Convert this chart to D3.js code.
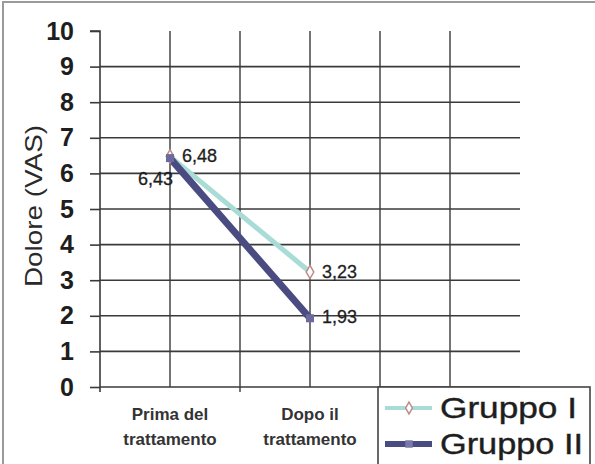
<!DOCTYPE html>
<html><head><meta charset="utf-8">
<script src="https://cdn.jsdelivr.net/npm/d3@7"></script>
<style>body{margin:0;background:#fff}svg{display:block}text{font-family:"Liberation Sans",Arial,sans-serif}</style>
</head><body><div id="chart"></div>
<script>
const categories = ["Prima del\ntrattamento", "Dopo il\ntrattamento", ""];
const seriesNames = ["Gruppo I", "Gruppo II"];
const gruppo1 = [6.48, 3.23];
const gruppo2 = [6.43, 1.93];
const labels1 = ["6,48", "3,23"];
const labels2 = ["6,43", "1,93"];
const yTicks = [0,1,2,3,4,5,6,7,8,9,10];

const W = 595, H = 464;
const svg = d3.select("#chart").append("svg").attr("width", W).attr("height", H);
svg.append("rect").attr("width", W).attr("height", H).attr("fill", "#fff");
// outer frame
svg.append("rect").attr("x", 3).attr("y", 2).attr("width", 640).attr("height", 520)
  .attr("fill", "none").attr("stroke", "#9a9a9a").attr("stroke-width", 2);

const x = d3.scaleBand().domain(categories).range([100, 520]).padding(0);
const y = d3.scaleLinear().domain([0, 10]).range([387, 31]);
const gridC = "#3a3a3a";

// horizontal gridlines
svg.append("g").selectAll("line").data(yTicks.filter(d => d > 0 && d < 10)).join("line")
  .attr("x1", 100).attr("x2", 520).attr("y1", d => y(d)).attr("y2", d => y(d))
  .attr("stroke", gridC).attr("stroke-width", 1.6);
// vertical gridlines (band centers and inner boundaries)
const vPos = [];
categories.forEach((c, i) => { vPos.push(x(c) + x.bandwidth() / 2); if (i > 0) vPos.push(x(c)); });
svg.append("g").selectAll("line").data(vPos).join("line")
  .attr("x1", d => d).attr("x2", d => d).attr("y1", y(10)).attr("y2", y(0))
  .attr("stroke", gridC).attr("stroke-width", 1.4);

// y axis
const yAxis = svg.append("g").attr("transform", "translate(100,0)")
  .call(d3.axisLeft(y).tickValues(yTicks).tickSize(10).tickPadding(16).tickFormat(d3.format("d")));
yAxis.select(".domain").attr("stroke", gridC).attr("stroke-width", 1.6).attr("d", `M-10,${y(10)}H0V${y(0) + 5}`);
yAxis.selectAll(".tick line").attr("stroke", gridC).attr("stroke-width", 1.6);
yAxis.selectAll(".tick text").attr("font-size", 25).attr("font-weight", "bold").attr("fill", "#1e1e1e")
  .attr("font-family", "Liberation Sans, Arial, sans-serif");

// x axis line + ticks at band boundaries
svg.append("line").attr("x1", 100).attr("x2", 520).attr("y1", y(0)).attr("y2", y(0))
  .attr("stroke", gridC).attr("stroke-width", 1.6);
svg.append("g").selectAll("line").data(categories.slice(1)).join("line")
  .attr("x1", d => x(d)).attr("x2", d => x(d)).attr("y1", y(0)).attr("y2", y(0) + 5)
  .attr("stroke", gridC).attr("stroke-width", 1.4);

// category labels
categories.forEach(c => {
  if (!c) return;
  const lines = c.split("\n");
  const cx = x(c) + x.bandwidth() / 2;
  const t = svg.append("text").attr("text-anchor", "middle").attr("font-size", 17)
    .attr("font-weight", "bold").attr("fill", "#333");
  lines.forEach((l, i) => t.append("tspan").attr("x", cx).attr("y", 420 + i * 25).text(l));
});

// y title
svg.append("text").attr("transform", "translate(42,206) rotate(-90)").attr("text-anchor", "middle")
  .attr("font-size", 24).attr("fill", "#2a2a2a").attr("textLength", 162).attr("lengthAdjust", "spacingAndGlyphs")
  .text("Dolore (VAS)");

// lines
const pts = (vals) => vals.map((v, i) => [x(categories[i]) + x.bandwidth() / 2, y(v)]);
const line = d3.line();
svg.append("path").attr("d", line(pts(gruppo1))).attr("fill", "none")
  .attr("stroke", "#a9dcd6").attr("stroke-width", 5);
svg.append("path").attr("d", line(pts(gruppo2))).attr("fill", "none")
  .attr("stroke", "#4a4b80").attr("stroke-width", 7);

// markers
const diamond = d3.symbol().type(d3.symbolDiamond).size(50);
const square = d3.symbol().type(d3.symbolSquare).size(64);
svg.append("g").selectAll("path").data(pts(gruppo1)).join("path")
  .attr("transform", d => `translate(${d[0]},${d[1]})`).attr("d", diamond)
  .attr("fill", "#fff").attr("stroke", "#c08a8a").attr("stroke-width", 1.5);
svg.append("g").selectAll("path").data(pts(gruppo2)).join("path")
  .attr("transform", d => `translate(${d[0]},${d[1]})`).attr("d", square)
  .attr("fill", "#6c6a9c");

// data labels
const p1 = pts(gruppo1), p2 = pts(gruppo2);
const lab = (txt, px, py, anchor) => svg.append("text").attr("x", px).attr("y", py)
  .attr("text-anchor", anchor).attr("font-size", 18).attr("fill", "#1e1e1e")
  .attr("stroke", "#1e1e1e").attr("stroke-width", 0.3).text(txt);
lab(labels1[0], p1[0][0] + 12, p1[0][1] + 6, "start");
lab(labels1[1], p1[1][0] + 12, p1[1][1] + 6, "start");
lab(labels2[0], p2[0][0] + 3, p2[0][1] + 27, "end");
lab(labels2[1], p2[1][0] + 12, p2[1][1] + 5, "start");

// legend
const lg = svg.append("g");
lg.append("rect").attr("x", 378).attr("y", y(0)).attr("width", 212).attr("height", 120)
  .attr("fill", "#fff").attr("stroke", "#444").attr("stroke-width", 1.6);
const legY = [408, 444];
const legStyles = [
  {stroke: "#a9dcd6", w: 4, sym: d3.symbol().type(d3.symbolDiamond).size(40), fill: "#fff", sc: "#c08a8a"},
  {stroke: "#4a4b80", w: 6, sym: d3.symbol().type(d3.symbolSquare).size(56), fill: "#7a78a8", sc: "none"}
];
seriesNames.forEach((n, i) => {
  const s = legStyles[i];
  lg.append("line").attr("x1", 385).attr("x2", 432).attr("y1", legY[i]).attr("y2", legY[i])
    .attr("stroke", s.stroke).attr("stroke-width", s.w);
  lg.append("path").attr("transform", `translate(409,${legY[i]})`).attr("d", s.sym)
    .attr("fill", s.fill).attr("stroke", s.sc).attr("stroke-width", 1.5);
  lg.append("text").attr("x", 440).attr("y", legY[i] + 10).attr("font-size", 30).attr("fill", "#1e1e1e")
    .attr("stroke", "#1e1e1e").attr("stroke-width", 0.4)
    .attr("textLength", i === 0 ? 137 : 143).attr("lengthAdjust", "spacingAndGlyphs").text(n);
});
</script></body></html>
